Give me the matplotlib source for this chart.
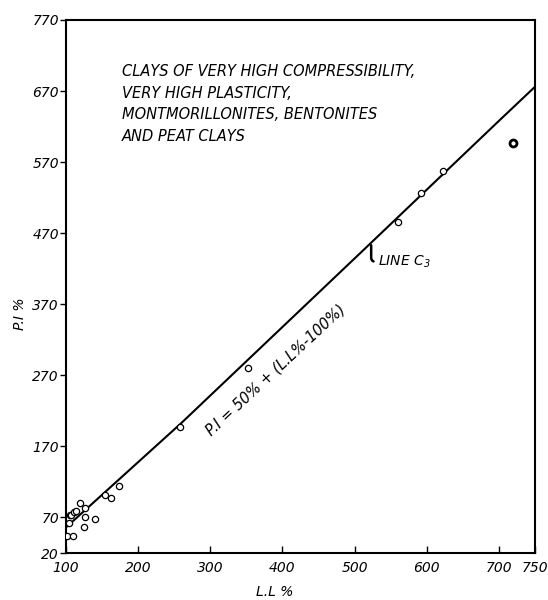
import matplotlib
matplotlib.use("Agg")
import matplotlib.pyplot as plt

# measured points (liquid limit %, plasticity index %)
ll_pts = [101, 110, 104, 106, 107, 111, 114, 119, 126, 126, 125, 140,
          154, 163, 173, 258, 352, 560, 592, 622]
pi_pts = [44, 44, 62, 73, 73, 78, 79, 90, 83, 70, 56, 68,
          101, 97, 114, 197, 281, 486, 527, 558]
ll_bold = [719]
pi_bold = [597]

# line C3 as drawn
ll_line = [100, 260, 512, 700, 750]
pi_line = [56, 203, 446, 628, 676]

xticks = [100, 200, 300, 400, 500, 600, 700, 750]
yticks = [20, 70, 170, 270, 370, 470, 570, 670, 770]

note = ("CLAYS OF VERY HIGH COMPRESSIBILITY,\n"
        "VERY HIGH PLASTICITY,\n"
        "MONTMORILLONITES, BENTONITES\n"
        "AND PEAT CLAYS")
formula = "P.I = 50% + (L.L%-100%)"

plt.rcParams['font.family'] = ['DejaVu Sans']
plt.rcParams['font.style'] = 'italic'
plt.rcParams['mathtext.default'] = 'it'

fig = plt.figure(figsize=(5.48, 6.0), dpi=100)
ax = fig.add_axes([0.1204, 0.0783, 0.8558, 0.8884])

ax.plot(ll_line, pi_line, color='black', lw=1.5, zorder=2)
ax.plot(ll_pts, pi_pts, 'o', ms=4.5, mfc='white', mec='black', mew=0.9, zorder=3)
ax.plot(ll_bold, pi_bold, 'o', ms=5, mfc='white', mec='black', mew=2, zorder=3)

ax.set_xlim(100, 750)
ax.set_ylim(20, 770)
ax.set_xticks(xticks)
ax.set_yticks(yticks)
ax.set_xticklabels([str(t) for t in xticks], fontsize=10, style='italic')
ax.set_yticklabels([str(t) for t in yticks], fontsize=10, style='italic')
ax.tick_params(axis='x', direction='in', length=5, width=1, pad=6)
ax.tick_params(axis='y', direction='out', length=4, width=1, pad=1)
for s in ax.spines.values():
    s.set_linewidth(1.5)

ax.text(178, 708, note, fontsize=10.5, style='italic', va='top', ha='left',
        linespacing=1.55)
ax.text(391, 277, formula, fontsize=10.5, style='italic', rotation=43,
        rotation_mode='anchor', ha='center', va='center')
ax.annotate("LINE C$_3$", xy=(523, 453), xytext=(532, 430), fontsize=10,
            style='italic', va='center', ha='left',
            arrowprops=dict(arrowstyle='-', lw=1.8, color='black',
                            connectionstyle='angle,angleA=180,angleB=90,rad=4',
                            shrinkA=1, shrinkB=0))

fig.text(275 / 548, 1 - 592 / 600, "L.L %", fontsize=10, style='italic',
         ha='center', va='center')
fig.text(20 / 548, 1 - 314 / 600, "P.I %", fontsize=10, style='italic',
         ha='center', va='center', rotation=90)

fig.savefig("out.png", dpi=100)
